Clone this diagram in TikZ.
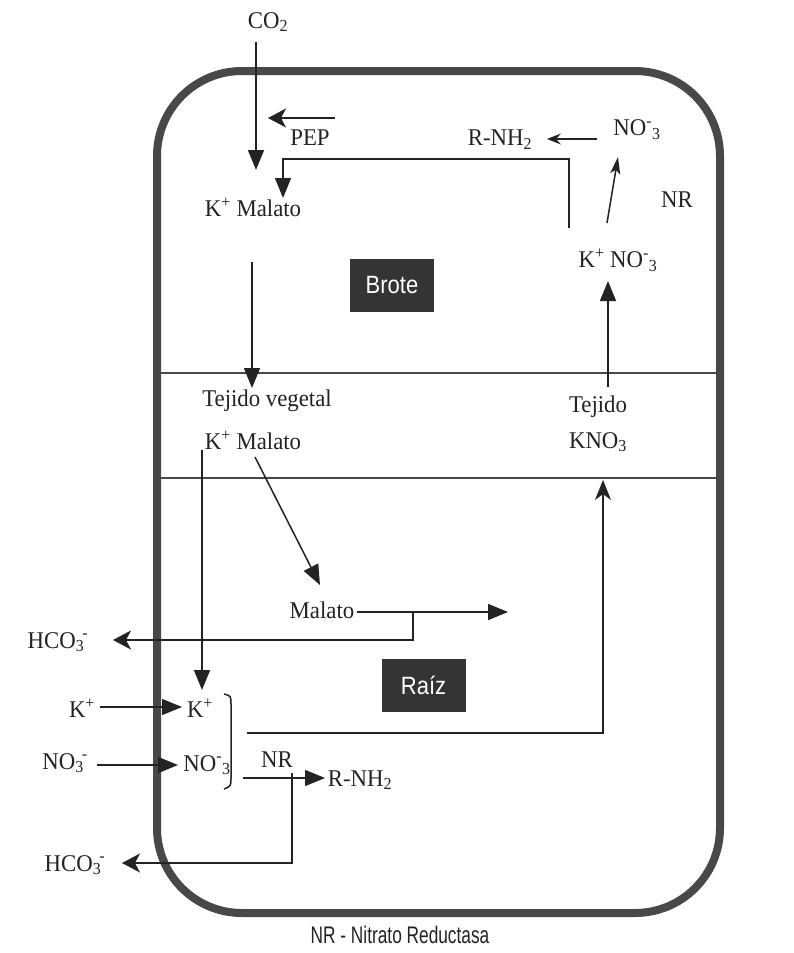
\documentclass[tikz,border=0pt]{standalone}
\usepackage{fontspec}
\setmainfont{Liberation Serif}[FakeStretch=0.95]
\newfontfamily\narrowsans[FakeStretch=0.88]{Liberation Sans}
\newfontfamily\capsans[FakeStretch=0.72]{Liberation Sans}
\usetikzlibrary{arrows.meta}
\definecolor{ink}{RGB}{35,35,35}
\definecolor{wall}{RGB}{72,72,72}
\definecolor{boxfill}{RGB}{52,52,52}
\begin{document}
\begin{tikzpicture}[x=1pt,y=-1pt,
  lbl/.style={font=\fontsize{24}{26}\selectfont, text=ink, inner sep=0pt},
  conn/.style={draw=ink, line width=1.5pt},
  bigtip/.style={-{Triangle[length=20pt,width=16pt]}},
  sttip/.style={-{Stealth[length=18pt,width=19pt,inset=5pt]}},
  thintip/.style={-{Stealth[length=14pt,width=11pt,inset=5pt]}},
  narrowtip/.style={-{Stealth[length=17pt,width=10pt,inset=4pt]}},
  divider/.style={draw=wall, line width=2.5pt},
  tag/.style={fill=boxfill, text=white, font=\narrowsans\fontsize{25}{27}\selectfont, minimum width=84pt, minimum height=53pt, inner sep=0pt},
  caption/.style={font=\capsans\fontsize{24}{26}\selectfont, text=ink, inner sep=0pt}
]
\fill[white] (0,0) rectangle (794,953);
\useasboundingbox (0,0) rectangle (794,953);

% dividers and cell wall
\draw[divider] (157,373) -- (720,373);
\draw[divider] (157,478) -- (720,478);
\draw[wall, line width=8pt, rounded corners=85pt] (157,71) rectangle (720,913);

% labels and boxes
\node[tag] (brote) at (392,285.5) {Brote};
\node[tag] (raiz) at (423.5,685) {Raíz};
\node[caption, anchor=base] (cap) at (400,943) {NR - Nitrato Reductasa};

\node[lbl] (co2) at (268,22) {CO\textsubscript{2}};
\node[lbl] (pep) at (310,138) {PEP};
\node[lbl] (kmal1) at (253,207) {K\textsuperscript{+} Malato};
\node[lbl] (rnh1) at (500,140) {R-NH\textsubscript{2}};
\node[lbl] (no3a) at (637,130) {NO\textsuperscript{-}\textsubscript{3}};
\node[lbl] (nr1) at (677,200) {NR};
\node[lbl] (kno3a) at (618,260) {K\textsuperscript{+} NO\textsuperscript{-}\textsubscript{3}};
\node[lbl] (tveg) at (267,401) {Tejido vegetal};
\node[lbl] (kmal2) at (253,440) {K\textsuperscript{+} Malato};
\node[lbl] (tej) at (598,407) {Tejido};
\node[lbl] (kno3b) at (598,442) {KNO\textsubscript{3}};
\node[lbl] (mal3) at (322,610) {Malato};
\node[lbl] (hco1) at (58,642) {HCO\textsubscript{3}\kern-0.08em\textsuperscript{-}};
\node[lbl] (kout) at (82,708) {K\textsuperscript{+}};
\node[lbl] (kin) at (200,708) {K\textsuperscript{+}};
\node[lbl] (no3out) at (65,763) {NO\textsubscript{3}\kern-0.08em\textsuperscript{-}};
\node[lbl] (no3in) at (207,765) {NO\textsuperscript{-}\textsubscript{3}};
\node[lbl] (nr2) at (277,760) {NR};
\node[lbl] (rnh2) at (360,780) {R-NH\textsubscript{2}};
\node[lbl] (hco2) at (75,865) {HCO\textsubscript{3}\kern-0.08em\textsuperscript{-}};

% connector end points
\coordinate (c1a) at (256,42);   \coordinate (c1b) at (256,170);
\coordinate (c2a) at (335,118);  \coordinate (c2b) at (268,118);
\coordinate (c3a) at (569,228);  \coordinate (c3b) at (569,159);
\coordinate (c3c) at (283,159);  \coordinate (c3d) at (283,198);
\coordinate (c4a) at (597,139);  \coordinate (c4b) at (547,139);
\coordinate (c5a) at (607,223);  \coordinate (c5b) at (618,157);
\coordinate (c6a) at (608,387);  \coordinate (c6b) at (608,281);
\coordinate (c7a) at (252,262);  \coordinate (c7b) at (252,388);
\coordinate (c8a) at (255,457);  \coordinate (c8b) at (320,585);
\coordinate (c9a) at (202,450);  \coordinate (c9b) at (202,690);
\coordinate (c10a) at (357,612); \coordinate (c10b) at (508,612);
\coordinate (c11a) at (413,612); \coordinate (c11b) at (413,640);
\coordinate (c11c) at (113,640);
\coordinate (c12a) at (100,707); \coordinate (c12b) at (182,707);
\coordinate (c13a) at (97,765);  \coordinate (c13b) at (178,765);
\coordinate (c14a) at (243,778); \coordinate (c14b) at (325,778);
\coordinate (c15a) at (292,773); \coordinate (c15b) at (292,863);
\coordinate (c15c) at (122,863);
\coordinate (c16a) at (247,733); \coordinate (c16b) at (603,733);
\coordinate (c16c) at (603,480);

% connectors
\draw[conn,bigtip] (c1a) -- (c1b);
\draw[conn,sttip] (c2a) -- (c2b);
\draw[conn,bigtip] (c3a) -- (c3b) -- (c3c) -- (c3d);
\draw[conn,thintip] (c4a) -- (c4b);
\draw[conn,narrowtip] (c5a) -- (c5b);
\draw[conn,bigtip] (c6a) -- (c6b);
\draw[conn,bigtip] (c7a) -- (c7b);
\draw[conn,bigtip] (c8a) -- (c8b);
\draw[conn,bigtip] (c9a) -- (c9b);
\draw[conn,bigtip] (c10a) -- (c10b);
\draw[conn,sttip] (c11a) -- (c11b) -- (c11c);
\draw[conn,bigtip] (c12a) -- (c12b);
\draw[conn,bigtip] (c13a) -- (c13b);
\draw[conn,bigtip] (c14a) -- (c14b);
\draw[conn,sttip] (c15a) -- (c15b) -- (c15c);
\draw[conn,-{Stealth[length=20pt,width=16pt,inset=6pt]}] (c16a) -- (c16b) -- (c16c);

% bracket grouping K+ and NO3-
\draw[conn] (224,694) .. controls (231,696) .. (231,704) -- (231,778) .. controls (231,786) .. (224,789);
\end{tikzpicture}
\end{document}
